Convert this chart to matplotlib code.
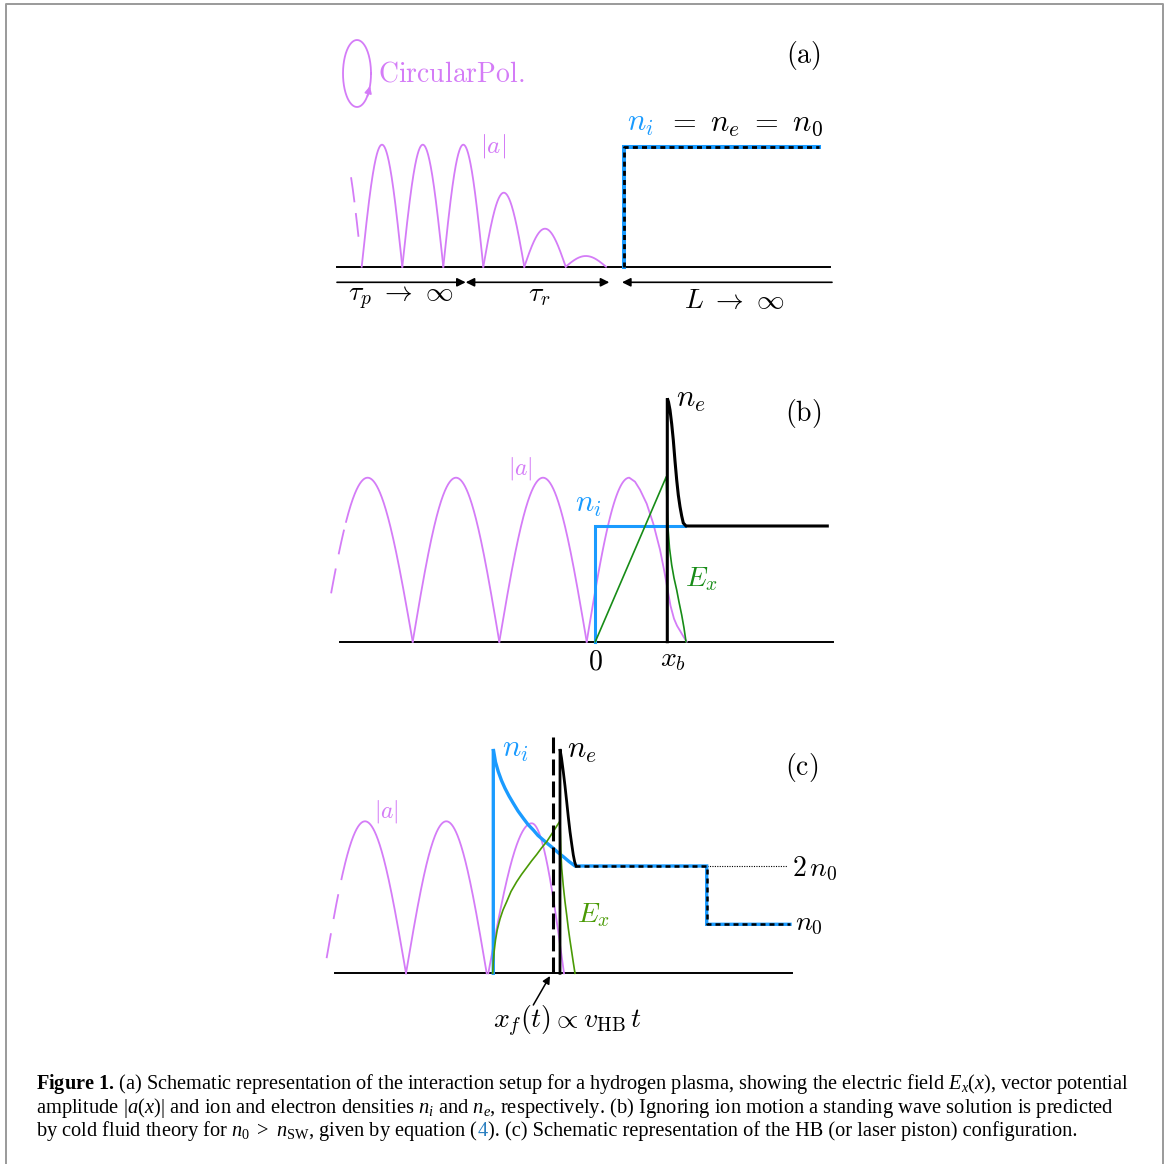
import numpy as np
import matplotlib
matplotlib.use("Agg")
import matplotlib.pyplot as plt

plt.rcParams['mathtext.fontset'] = 'custom'
plt.rcParams['mathtext.rm'] = 'Liberation Serif'
plt.rcParams['mathtext.it'] = 'Liberation Serif:italic'
plt.rcParams['mathtext.bf'] = 'Liberation Serif:bold'

PINK = '#d47cf7'
BLUE = '#1a9bff'
GREEN_B = '#178c17'
GREEN_C = '#4a9a05'
LINK = '#2a7fc0'

# ---------------- schematic values ----------------
# panel (a)
a_base = 266.7
a_axis_x = [337, 830]
a_zeros = [361.7, 402.3, 443.3, 483.3, 524.3, 565.7, 606.0]
a_heights = [122, 122, 122, 74, 38, 10.7]
a_tail = [321.0, 361.7, 122, 351.0, 358.5]      # zero0, zero1, height, dashed from, to
a_step_x = [624.3, 624.3, 819]
a_step_y = [266.7, 146.7, 146.7]
a_arrow_y = 282.3
a_arrow_x = [337, 465.7, 609.3, 622, 832]

# panel (b)
b_base = 641.7
b_axis_x = [340, 833]
b_zeros = [322.5, 412.7, 499.3, 586.7]
b_height = 164
b_tail_x = [331.0, 346.0]
b_last_peak = 629.3
b_last_right_x = [629.3, 635, 640, 646.7, 653.3, 660, 664, 667.3, 670.5, 674, 677, 680, 683.5, 686.7]
b_last_right_h = [164, 160, 152, 138, 118, 92, 72, 54, 36, 23, 16, 11, 5, 0]
b_ni_x = [595.3, 595.3, 685]
b_ni_y = [641.7, 526, 526]
b_ne_x = [667.3, 667.3, 668.5, 670, 671.7, 673.3, 675, 676.7, 678.3, 680, 681.7, 683.3, 686, 827.3]
b_ne_y = [641.7, 398.3, 402, 410, 424, 440, 461, 480, 495, 506.7, 516, 523, 526, 526]
b_ex_x = [595.3, 666.3, 667.0, 668.0, 669.5, 671.7, 674, 676.7, 679, 681.7, 684, 686]
b_ex_y = [641.7, 476.7, 505, 528, 548, 565, 578, 590, 602, 615, 628, 641.7]

# panel (c)
c_base = 973.3
c_axis_x = [335, 791.7]
c_arches = [(324.0, 365.0, 406.0, 152), (406.0, 446.3, 486.7, 152), (488.3, 531.7, 564.0, 150)]
c_tail_x = [326.5, 347.0]
c_ni_x = [493.3, 493.3, 495.5, 498.3, 501.5, 505, 509, 513.3, 518, 523.3, 528, 533.3, 538, 543.3, 548, 553.3, 558, 563.3, 569, 575]
c_ni_y = [973.3, 749, 762, 771.7, 780.5, 788.3, 796, 803.3, 811, 818.3, 824.5, 830, 835.5, 840, 844, 848.3, 852.5, 856.7, 861.5, 866]
c_step_x = [575, 706.7, 706.7, 790]
c_step_y = [866, 866, 924.3, 924.3]
c_dot_x = [706.7, 786.7]
c_ne_x = [560, 560, 561.5, 563.3, 565, 566.7, 568.3, 570, 571.7, 573.3, 574.7, 576]
c_ne_y = [973.3, 749, 758, 771.7, 786, 801.7, 817, 831.7, 844, 855, 862, 866]
c_front_x = 552.7
c_front_y = [736.7, 973.3]
c_ex_x = [492.7, 493.3, 494.2, 495.5, 497.2, 500, 503, 506.7, 511, 516.7, 521.5, 526.7, 531.5, 536.7, 541.5, 546.7, 553, 560,
          560.8, 561.7, 563.3, 565, 566.7, 568.3, 570, 571.7, 573.3, 575]
c_ex_y = [973.3, 962, 951, 940, 930, 919, 910, 901.7, 891.5, 881.7, 874.5, 867.5, 861, 854.5, 848, 841.7, 832, 821,
          850, 868.3, 886, 901.7, 915, 928.3, 940.5, 951.7, 962.5, 973.3]
c_arrow = [(533.3, 1005), (550, 976)]

# caption
cap_lines = [
    r"$\mathbf{Figure\ 1.}\,$(a) Schematic representation of the interaction setup for a hydrogen plasma, showing the electric field $E_x(x)$, vector potential",
    r"amplitude $|a(x)|$ and ion and electron densities $n_i$ and $n_e$, respectively. (b) Ignoring ion motion a standing wave solution is predicted",
]
cap3 = [r"by cold fluid theory for $n_0\ >\ n_{\mathrm{SW}}$, given by equation (", "4",
        "). (c) Schematic representation of the HB (or laser piston) configuration."]
cap_x = 36
cap_base = [1089, 1112.5, 1136]
cap_right = [1130, 1116, 1077]

# ---------------- drawing ----------------
fig = plt.figure(figsize=(11.68, 11.64), dpi=100)
ax = fig.add_axes([0, 0, 1, 1])
ax.set_xlim(0, 1168)
ax.set_ylim(1164, 0)
ax.axis('off')

# page frame
ax.plot([6, 6, 1163, 1163], [1164, 3.5, 3.5, 1164], color='#9a9a9a', lw=1.4, clip_on=False)


def arch(z0, zp, z1, h, base, n=120):
    xl = np.linspace(z0, zp, n)
    xr = np.linspace(zp, z1, n)
    yl = h * np.sin(np.pi / 2 * (xl - z0) / (zp - z0))
    yr = h * np.cos(np.pi / 2 * (xr - zp) / (z1 - zp))
    return np.r_[xl, xr], base - np.r_[yl, yr]


def T(x, y, s, size, color='k', ha='center', va='center'):
    return ax.text(x, y, s, fontsize=size, color=color, ha=ha, va=va, math_fontfamily='cm')


PLW = 1.3
# ----- panel (a)
ax.plot(a_axis_x, [a_base, a_base], color='k', lw=1.4)
for z0, z1, h in zip(a_zeros[:-1], a_zeros[1:], a_heights):
    x, y = arch(z0, (z0 + z1) / 2, z1, h, a_base)
    ax.plot(x, y, color=PINK, lw=PLW)
z0, z1, h, d0, d1 = a_tail
x, y = arch(z0, (z0 + z1) / 2, z1, h, a_base, 400)
m = (x >= d0) & (x <= d1)
ax.plot(x[m], y[m], color=PINK, lw=PLW, ls=(0, (14, 6)))
ax.plot(a_step_x, a_step_y, color=BLUE, lw=2.9, solid_joinstyle='miter')
ax.plot(a_step_x, a_step_y, color='k', lw=2.0, ls=(0, (1.8, 1.5)))
arr = dict(color='k', lw=1.2, shrinkA=0, shrinkB=0, mutation_scale=12.6)
ax.annotate('', xy=(a_arrow_x[1], a_arrow_y), xytext=(a_arrow_x[0], a_arrow_y),
            arrowprops=dict(arrowstyle='-|>', **arr))
ax.annotate('', xy=(a_arrow_x[2], a_arrow_y), xytext=(a_arrow_x[1], a_arrow_y),
            arrowprops=dict(arrowstyle='<|-|>', **arr))
ax.annotate('', xy=(a_arrow_x[3], a_arrow_y), xytext=(a_arrow_x[4], a_arrow_y),
            arrowprops=dict(arrowstyle='-|>', **arr))
# circular polarisation symbol
t = np.linspace(0, 2 * np.pi, 200)
ax.plot(357 + 14 * np.cos(t), 73.5 + 33.5 * np.sin(t), color=PINK, lw=PLW)
ax.annotate('', xy=(370, 86), xytext=(367.5, 96),
            arrowprops=dict(arrowstyle='-|>', color=PINK, lw=PLW, shrinkA=0, shrinkB=0, mutation_scale=10))
T(378, 73, r'$\mathrm{CircularPol.}$', 20, PINK, ha='left')
T(803.5, 55, r'$\mathrm{(a)}$', 20)
T(493, 146, r'$|a|$', 18, PINK)
T(627, 131, r'$n_i$', 22, BLUE, ha='left', va='baseline')
T(667, 131, r'$=\ n_e\ =\ n_0$', 22, ha='left', va='baseline')
T(401, 301.5, r'$\tau_p\ \rightarrow\ \infty$', 20, va='baseline')
T(539, 301.5, r'$\tau_r$', 20, va='baseline')
T(734, 308, r'$L\ \rightarrow\ \infty$', 20, va='baseline')

# ----- panel (b)
ax.plot(b_axis_x, [b_base, b_base], color='k', lw=1.4)
for i in range(len(b_zeros) - 1):
    z0, z1 = b_zeros[i], b_zeros[i + 1]
    x, y = arch(z0, (z0 + z1) / 2, z1, b_height, b_base, 300)
    if i == 0:
        md = (x >= b_tail_x[0]) & (x <= b_tail_x[1])
        ax.plot(x[md], y[md], color=PINK, lw=PLW, ls=(0, (14, 8)))
        ms = x >= b_tail_x[1]
        ax.plot(x[ms], y[ms], color=PINK, lw=PLW)
    else:
        ax.plot(x, y, color=PINK, lw=PLW)
xl = np.linspace(b_zeros[-1], b_last_peak, 100)
yl = b_base - b_height * np.sin(np.pi / 2 * (xl - b_zeros[-1]) / (b_last_peak - b_zeros[-1]))
ax.plot(np.r_[xl, b_last_right_x], np.r_[yl, b_base - np.array(b_last_right_h)], color=PINK, lw=PLW)
ax.plot(b_ni_x, b_ni_y, color=BLUE, lw=2.2, solid_joinstyle='miter')
ax.plot(b_ex_x, b_ex_y, color=GREEN_B, lw=1.2)
ax.plot(b_ne_x, b_ne_y, color='k', lw=2.2, solid_joinstyle='miter')
T(520, 469, r'$|a|$', 17, PINK)
T(575, 511.7, r'$n_i$', 22, BLUE, ha='left', va='baseline')
T(676, 406.7, r'$n_e$', 22, ha='left', va='baseline')
T(803, 413, r'$\mathrm{(b)}$', 20)
T(685, 586.7, r'$E_x$', 20, GREEN_B, ha='left', va='baseline')
T(595, 661, r'$0$', 20)
T(660, 666.7, r'$x_b$', 20, ha='left', va='baseline')

# ----- panel (c)
ax.plot(c_axis_x, [c_base, c_base], color='k', lw=1.4)
for i, (z0, zp, z1, h) in enumerate(c_arches):
    x, y = arch(z0, zp, z1, h, c_base, 300)
    if i == 0:
        md = (x >= c_tail_x[0]) & (x <= c_tail_x[1])
        ax.plot(x[md], y[md], color=PINK, lw=PLW, ls=(0, (14, 8)))
        ms = x >= c_tail_x[1]
        ax.plot(x[ms], y[ms], color=PINK, lw=PLW)
    else:
        ax.plot(x, y, color=PINK, lw=PLW)
ax.plot(c_dot_x, [c_step_y[0], c_step_y[0]], color='k', lw=0.8, ls=(0, (1, 1.2)))
ax.plot(c_ni_x + c_step_x, c_ni_y + c_step_y, color=BLUE, lw=2.4, solid_joinstyle='miter')
ax.plot(c_step_x, c_step_y, color='k', lw=1.8, ls=(0, (2.0, 1.6)))
ax.plot(c_ex_x, c_ex_y, color=GREEN_C, lw=1.2)
ax.plot([c_front_x, c_front_x], c_front_y, color='k', lw=2.2, ls=(0, (5.2, 2.0)))
ax.plot(c_ne_x, c_ne_y, color='k', lw=2.0, solid_joinstyle='miter')
ax.annotate('', xy=c_arrow[1], xytext=c_arrow[0],
            arrowprops=dict(arrowstyle='-|>', color='k', lw=1.1, shrinkA=0, shrinkB=0, mutation_scale=11))
T(501.7, 756.7, r'$n_i$', 22, BLUE, ha='left', va='baseline')
T(567.3, 758.3, r'$n_e$', 22, ha='left', va='baseline')
T(386.7, 811.7, r'$|a|$', 17, PINK)
T(802, 768, r'$\mathrm{(c)}$', 20)
T(576.7, 922.7, r'$E_x$', 20, GREEN_C, ha='left', va='baseline')
T(791.7, 876.7, r'$2\,n_0$', 20, ha='left', va='baseline')
T(795, 930, r'$n_0$', 20, ha='left', va='baseline')
T(567.5, 1028.3, r'$x_f(t)\propto v_{\mathrm{HB}}\,t$', 20, va='baseline')

# ----- caption
cfont = dict(fontsize=14, family='Liberation Serif', va='baseline', ha='left')
c1 = ax.text(cap_x, cap_base[0], cap_lines[0], **cfont)
c2 = ax.text(cap_x, cap_base[1], cap_lines[1], **cfont)
c3a = ax.text(cap_x, cap_base[2], cap3[0], **cfont)
c3b = ax.annotate(cap3[1], xy=(1, cap_base[2]), xycoords=(c3a, 'data'), color=LINK, **cfont)
c3c = ax.annotate(cap3[2], xy=(1, cap_base[2]), xycoords=(c3b, 'data'), **cfont)

fig.canvas.draw()
r = fig.canvas.get_renderer()
for group, right in [([c1], cap_right[0]), ([c2], cap_right[1]), ([c3a, c3b, c3c], cap_right[2])]:
    for _ in range(2):
        bbs = [g.get_window_extent(r) for g in group]
        w = max(b.x1 for b in bbs) - min(b.x0 for b in bbs)
        f = (right - cap_x) / w
        for g in group:
            g.set_fontsize(g.get_fontsize() * f)
        fig.canvas.draw()

fig.savefig('out.png', dpi=100)
